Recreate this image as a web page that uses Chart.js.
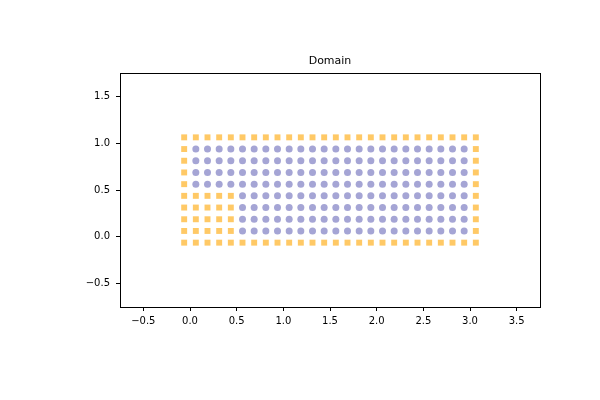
<!DOCTYPE html>
<html>
<head>
<meta charset="utf-8">
<script src="https://cdn.jsdelivr.net/npm/chart.js@4"></script>
<style>
  html, body { margin: 0; padding: 0; background: #fff; }
  #wrap { width: 600px; height: 400px; }
</style>
</head>
<body>
<div id="wrap"><canvas id="domainChart" width="600" height="400"></canvas></div>
<script>
// grid columns / rows of the domain
const xValues = [-0.0625, 0.0625, 0.1875, 0.3125, 0.4375, 0.5625, 0.6875, 0.8125, 0.9375,
    1.0625, 1.1875, 1.3125, 1.4375, 1.5625, 1.6875, 1.8125, 1.9375, 2.0625, 2.1875,
    2.3125, 2.4375, 2.5625, 2.6875, 2.8125, 2.9375, 3.0625];
const yValues = [1.0625, 0.9375, 0.8125, 0.6875, 0.5625, 0.4375, 0.3125, 0.1875, 0.0625, -0.0625];

// B = boundary point (orange square), . = interior point (blue circle)
const pointMap = [
    'BBBBBBBBBBBBBBBBBBBBBBBBBB',
    'B........................B',
    'B........................B',
    'B........................B',
    'B........................B',
    'BBBBB....................B',
    'BBBBB....................B',
    'BBBBB....................B',
    'BBBBB....................B',
    'BBBBBBBBBBBBBBBBBBBBBBBBBB'
];

const xTicks = [-0.5, 0.0, 0.5, 1.0, 1.5, 2.0, 2.5, 3.0, 3.5];
const yTicks = [-0.5, 0.0, 0.5, 1.0, 1.5];
const titleText = 'Domain';

const boundaryPts = [];
const interiorPts = [];
pointMap.forEach((row, j) => {
    row.split('').forEach((c, i) => {
        const p = { x: xValues[i], y: yValues[j] };
        if (c === 'B') boundaryPts.push(p); else interiorPts.push(p);
    });
});

const fmt = v => v.toFixed(1).replace('-', '\u2212');

const framePlugin = {
    id: 'frame',
    afterDraw(chart) {
        const { ctx, chartArea: a } = chart;
        ctx.save();
        ctx.strokeStyle = '#000';
        ctx.lineWidth = 1;
        ctx.strokeRect(Math.round(a.left) + 0.5, Math.round(a.top) + 0.5,
            Math.round(a.right - a.left), Math.round(a.bottom - a.top));
        ctx.fillStyle = '#000';
        ctx.font = '11px "DejaVu Sans"';
        ctx.textAlign = 'center';
        ctx.textBaseline = 'middle';
        ctx.fillText(titleText, (a.left + a.right) / 2, a.top - 12);
        ctx.restore();
    }
};

const axisCommon = {
    type: 'linear',
    grid: { display: true, drawOnChartArea: false, drawTicks: true, tickLength: 4, tickColor: '#000', tickWidth: 1 },
    border: { display: true, color: '#000', width: 1 },
};

new Chart(document.getElementById('domainChart'), {
    type: 'scatter',
    data: {
        datasets: [
            {
                data: boundaryPts,
                pointStyle: 'rect',
                pointRadius: 4.2,
                borderWidth: 0,
                backgroundColor: 'rgba(255,165,0,0.6)',
                borderColor: 'rgba(255,165,0,0.6)'
            },
            {
                data: interiorPts,
                pointStyle: 'circle',
                pointRadius: 3.5,
                borderWidth: 0,
                backgroundColor: 'rgba(30,30,150,0.4)',
                borderColor: 'rgba(30,30,150,0.4)'
            }
        ]
    },
    options: {
        responsive: false,
        animation: false,
        layout: { padding: { left: 0, right: 60, top: 73, bottom: 0 } },
        plugins: { legend: { display: false }, tooltip: { enabled: false }, title: { display: false } },
        scales: {
            x: {
                ...axisCommon,
                min: -0.75, max: 3.75,
                afterBuildTicks: s => { s.ticks = xTicks.map(v => ({ value: v })); },
                afterFit: s => { s.height = 93; },
                ticks: { color: '#000', padding: 4, maxRotation: 0, autoSkip: false,
                    font: { family: 'DejaVu Sans', size: 10 }, callback: v => fmt(v) }
            },
            y: {
                ...axisCommon,
                min: -0.75, max: 1.75,
                afterBuildTicks: s => { s.ticks = yTicks.map(v => ({ value: v })); },
                afterFit: s => { s.width = 120; },
                ticks: { color: '#000', padding: 6, autoSkip: false,
                    font: { family: 'DejaVu Sans', size: 10 }, callback: v => fmt(v) }
            }
        }
    },
    plugins: [framePlugin]
});
</script>
</body>
</html>
